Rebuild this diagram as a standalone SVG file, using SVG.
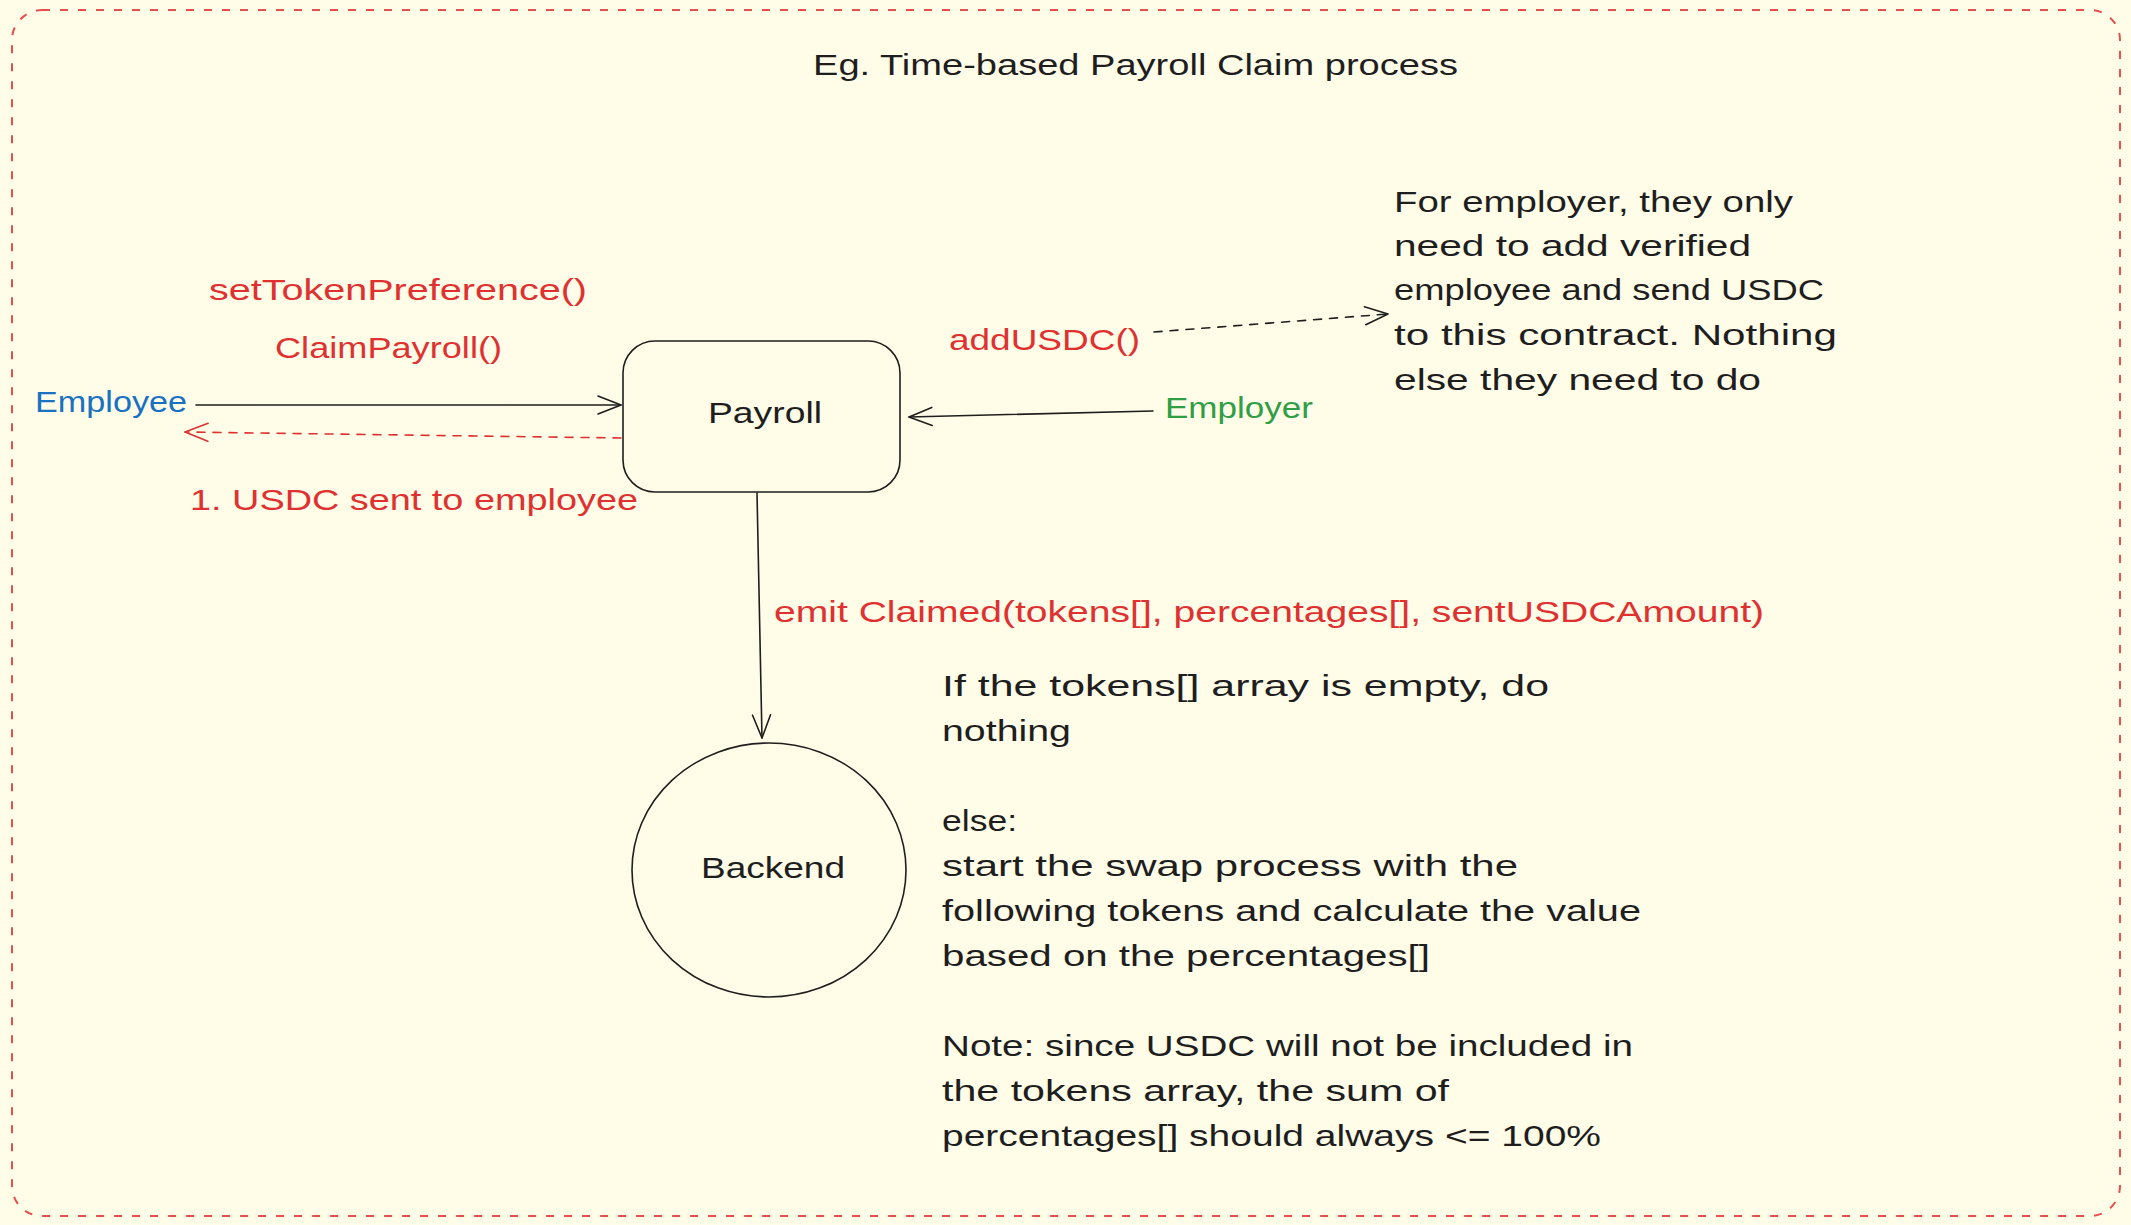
<svg xmlns="http://www.w3.org/2000/svg" width="2131" height="1225" viewBox="0 0 2131 1225">
<defs>
<marker id="ah-k" viewBox="-25 -11 27 22" refX="0" refY="0" markerWidth="27" markerHeight="22" markerUnits="userSpaceOnUse" orient="auto"><path d="M -23 -9 L 0 0 L -23 9" fill="none" stroke="#1e1e1e" stroke-width="1.6" stroke-linecap="round" stroke-linejoin="round"/></marker>
<marker id="ah-r" viewBox="-25 -11 27 22" refX="0" refY="0" markerWidth="27" markerHeight="22" markerUnits="userSpaceOnUse" orient="auto"><path d="M -23 -9 L 0 0 L -23 9" fill="none" stroke="#e03131" stroke-width="1.6" stroke-linecap="round" stroke-linejoin="round"/></marker>
</defs>
<style>
text{font-family:"Liberation Sans",Arial,sans-serif;font-size:30px;fill:#1e1e1e}
.red{fill:#e03131}
.blue{fill:#1971c2}
.green{fill:#2f9e44}
.shape{fill:none;stroke:#1e1e1e;stroke-width:1.6}
.conn{fill:none;stroke:#1e1e1e;stroke-width:1.6;stroke-linecap:round}
.dash{stroke-dasharray:8 8}
.rconn{fill:none;stroke:#e03131;stroke-width:1.6;stroke-dasharray:8 8;stroke-linecap:round}
</style>
<rect x="0" y="0" width="2131" height="1225" fill="#fffce8"/>
<g id="frame">
<rect x="12" y="10" width="2108" height="1206" rx="30" fill="none" stroke="#e03131" stroke-opacity="0.85" stroke-width="2" stroke-dasharray="8 10"/>
<text x="813" y="75" textLength="645" lengthAdjust="spacingAndGlyphs">Eg. Time-based Payroll Claim process</text>
</g>
<g id="connectors">
<line class="conn" x1="196" y1="405" x2="621" y2="405" marker-end="url(#ah-k)"/>
<line class="rconn" x1="621" y1="438" x2="185" y2="432" marker-end="url(#ah-r)"/>
<line class="conn" x1="1153" y1="411" x2="909" y2="417" marker-end="url(#ah-k)"/>
<line class="conn dash" x1="1154" y1="332" x2="1388" y2="314" marker-end="url(#ah-k)"/>
<line class="conn" x1="757" y1="493" x2="762" y2="738" marker-end="url(#ah-k)"/>
</g>
<g id="payroll">
<rect class="shape" x="623" y="341" width="277" height="151" rx="32"/>
<text x="708" y="423" textLength="114" lengthAdjust="spacingAndGlyphs">Payroll</text>
</g>
<g id="backend">
<ellipse class="shape" cx="769" cy="870" rx="137" ry="127"/>
<text x="701" y="878" textLength="144" lengthAdjust="spacingAndGlyphs">Backend</text>
</g>
<g id="employee">
<text class="blue" x="35" y="412" textLength="152" lengthAdjust="spacingAndGlyphs">Employee</text>
</g>
<g id="employer">
<text class="green" x="1165" y="418" textLength="148" lengthAdjust="spacingAndGlyphs">Employer</text>
</g>
<g id="labels">
<text class="red" x="209" y="300" textLength="378" lengthAdjust="spacingAndGlyphs">setTokenPreference()</text>
<text class="red" x="275" y="358" textLength="227" lengthAdjust="spacingAndGlyphs">ClaimPayroll()</text>
<text class="red" x="190" y="510" textLength="448" lengthAdjust="spacingAndGlyphs">1. USDC sent to employee</text>
<text class="red" x="949" y="350" textLength="191" lengthAdjust="spacingAndGlyphs">addUSDC()</text>
<text class="red" x="774" y="622" textLength="990" lengthAdjust="spacingAndGlyphs">emit Claimed(tokens[], percentages[], sentUSDCAmount)</text>
</g>
<g id="employer-note">
<text x="1394" y="212" textLength="399" lengthAdjust="spacingAndGlyphs">For employer, they only</text>
<text x="1394" y="256" textLength="357" lengthAdjust="spacingAndGlyphs">need to add verified</text>
<text x="1394" y="300" textLength="430" lengthAdjust="spacingAndGlyphs">employee and send USDC</text>
<text x="1394" y="345" textLength="443" lengthAdjust="spacingAndGlyphs">to this contract. Nothing</text>
<text x="1394" y="390" textLength="367" lengthAdjust="spacingAndGlyphs">else they need to do</text>
</g>
<g id="backend-note">
<text x="942" y="696" textLength="607" lengthAdjust="spacingAndGlyphs">If the tokens[] array is empty, do</text>
<text x="942" y="741" textLength="129" lengthAdjust="spacingAndGlyphs">nothing</text>
<text x="942" y="831" textLength="75" lengthAdjust="spacingAndGlyphs">else:</text>
<text x="942" y="876" textLength="576" lengthAdjust="spacingAndGlyphs">start the swap process with the</text>
<text x="942" y="921" textLength="699" lengthAdjust="spacingAndGlyphs">following tokens and calculate the value</text>
<text x="942" y="966" textLength="488" lengthAdjust="spacingAndGlyphs">based on the percentages[]</text>
<text x="942" y="1056" textLength="691" lengthAdjust="spacingAndGlyphs">Note: since USDC will not be included in</text>
<text x="942" y="1101" textLength="507" lengthAdjust="spacingAndGlyphs">the tokens array, the sum of</text>
<text x="942" y="1146" textLength="659" lengthAdjust="spacingAndGlyphs">percentages[] should always &lt;= 100%</text>
</g>
</svg>
